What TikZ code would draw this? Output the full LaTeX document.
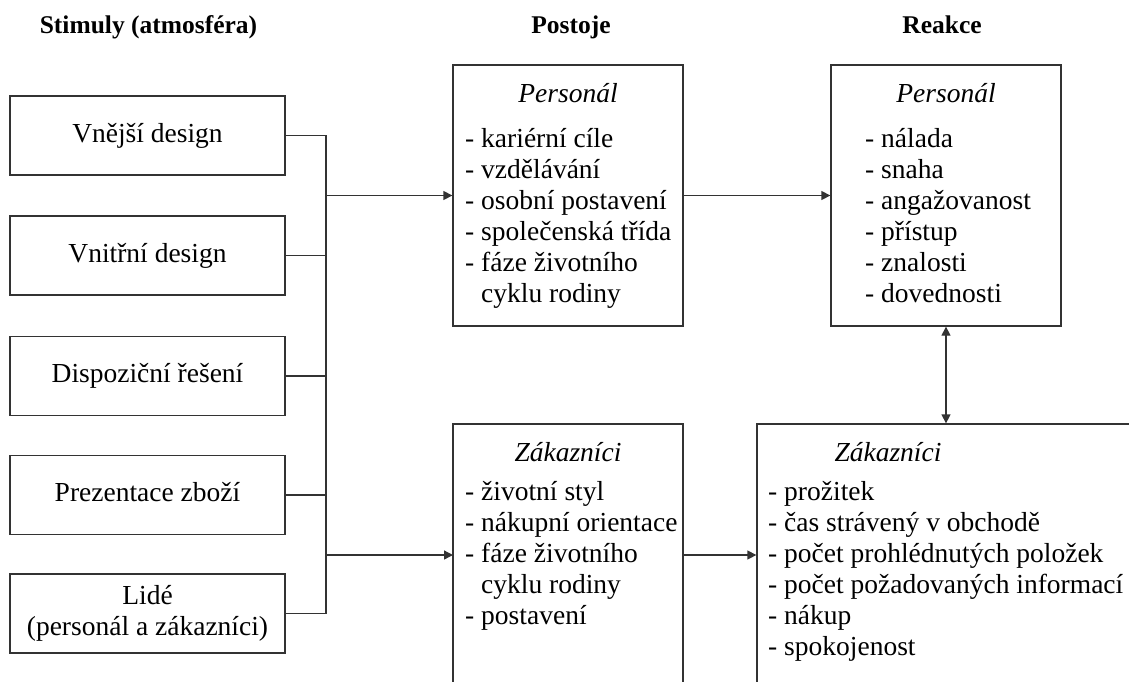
\documentclass[tikz,border=0pt]{standalone}
\usepackage{fontspec}
\setmainfont{Liberation Serif}
\usetikzlibrary{arrows.meta,positioning}
\tikzset{
	box/.style = {draw=black!80, line width=1.3pt, rectangle, inner sep=0pt},
	stim/.style = {box, align=center, minimum width=275pt, minimum height=79pt},
	stimone/.style = {stim, text height=19pt, text depth=6pt},
	listbox/.style = {box, minimum width=230pt, minimum height=261pt},
	openbox/.style = {box, minimum height=296pt},
	colhead/.style = {font=\fontsize{25.5}{30}\selectfont\bfseries, anchor=base},
	boxtitle/.style = {font=\fontsize{27.5}{31}\selectfont\itshape, anchor=base, inner sep=0pt},
	items/.style = {align=left, anchor=base west, inner sep=0pt}, % base = last line
	link/.style = {draw=black!80, line width=1.3pt}
}

\begin{document}
\begin{tikzpicture}[x=1pt, y=-1pt, >={Triangle[length=9pt,width=9pt]},
	font=\fontsize{27.5}{31}\selectfont]
\useasboundingbox (0,0) rectangle (1129,681);
\clip (0,0) rectangle (1129,681);
% column headings
\node [colhead] (h_stim) at (148.5,33) {Stimuly (atmosféra)};
\node [colhead] (h_post) at (571,33) {Postoje};
\node [colhead] (h_reak) at (942,33) {Reakce};
% stimuli
\node [stimone] (vnejsi) at (147.5,135.5) {Vnější design};
\node [stimone] (vnitrni) at (147.5,255.5) {Vnitřní design};
\node [stimone] (dispo) at (147.5,376) {Dispoziční řešení};
\node [stimone] (prez) at (147.5,495) {Prezentace zboží};
\node [stim] (lide) at (147.5,613.5) {Lidé\\(personál a zákazníci)};
% postoje
\node [listbox] (p_pers) at (568,195.5) {};
\node [boxtitle] (p_pers_t) at (568,102) {Personál};
\node [items] (p_pers_l) at (465,302) {- kariérní cíle\\- vzdělávání\\- osobní postavení\\
	- společenská třída\\- fáze životního\\\phantom{- }cyklu rodiny};
\node [openbox, minimum width=230pt] (p_zak) at (568,572) {};
\node [boxtitle] (p_zak_t) at (568,461) {Zákazníci};
\node [items] (p_zak_l) at (465,624) {- životní styl\\- nákupní orientace\\- fáze životního\\
	\phantom{- }cyklu rodiny\\- postavení};
% reakce
\node [listbox] (r_pers) at (946,195.5) {};
\node [boxtitle] (r_pers_t) at (946,102) {Personál};
\node [items] (r_pers_l) at (865,302) {- nálada\\- snaha\\- angažovanost\\- přístup\\- znalosti\\- dovednosti};
\node [openbox, minimum width=403pt] (r_zak) at (958.5,572) {};
\node [boxtitle] (r_zak_t) at (888,461) {Zákazníci};
\node [items] (r_zak_l) at (768,655) {- prožitek\\- čas strávený v obchodě\\- počet prohlédnutých položek\\
	- počet požadovaných informací\\- nákup\\- spokojenost};
% connectors
\coordinate (bus) at (326,0);
\coordinate (zin) at (453,555);
\draw [link] (vnejsi.east) -| (lide.east -| bus) -- (lide.east);
\foreach \n in {vnitrni,dispo,prez}
	\draw [link] (\n.east) -- (\n.east -| bus);
\draw [link,->] (bus |- p_pers.west) -- (p_pers.west);
\draw [link,->] (bus |- zin) -- (zin);
\draw [link,->] (p_pers.east) -- (r_pers.west);
\draw [link,->] (zin -| p_zak.east) -- (zin -| r_zak.west);
\draw [link,<->] (r_pers.south) -- (r_pers.south |- r_zak.north);
\end{tikzpicture}
\end{document}
